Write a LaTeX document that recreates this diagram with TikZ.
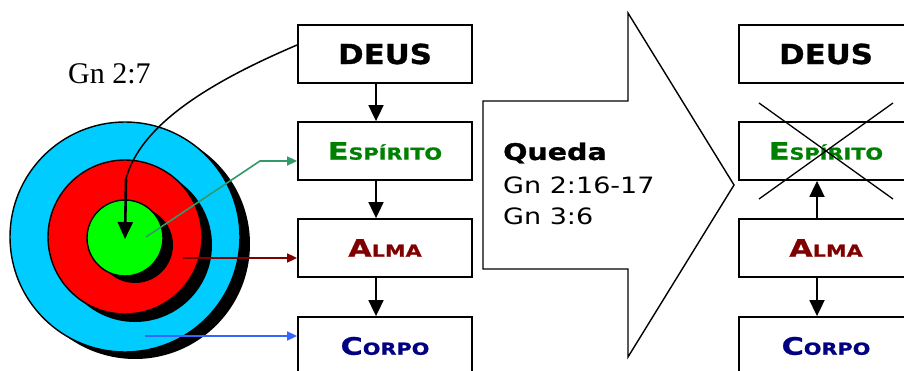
\documentclass[tikz,border=0pt]{standalone}
\usepackage{fontspec}
\usetikzlibrary{arrows.meta}
\newfontfamily\vfD{DejaVu Sans}[FakeStretch=1.12,FakeBold=1.2]
\newfontfamily\vfS{DejaVu Sans}[FakeStretch=1.26,FakeBold=1]
\newfontfamily\vfQ{DejaVu Sans}[FakeStretch=1.24,FakeBold=1]
\newfontfamily\vfR{DejaVu Sans}[FakeStretch=1.2]
\newfontfamily\tf{Liberation Serif}
\definecolor{cyanC}{RGB}{0,204,255}
\definecolor{greenT}{RGB}{0,128,0}
\definecolor{redT}{RGB}{128,0,0}
\definecolor{blueT}{RGB}{0,0,128}
\definecolor{greenA}{RGB}{51,153,102}
\definecolor{blueA}{RGB}{51,102,255}
\newcommand{\fsz}[1]{\fontsize{#1}{#1}\selectfont}
\newcommand{\smc}[2]{{\fsz{24}#1}{\fsz{16.5}#2}}
\tikzset{
  box/.style={draw=black, line width=1.8pt, minimum width=174pt, minimum height=58pt, inner sep=0pt, font=\vfS\bfseries},
  conn/.style={line width=1.8pt, -{Triangle[length=16pt,width=15pt]}},
  carrow/.style={line width=1.6pt, -{Triangle[length=10pt,width=9pt]}},
  ring/.style={draw=black, line width=1.4pt},
}
\begin{document}
\begin{tikzpicture}[x=1pt,y=-1pt]
\useasboundingbox (0,0) rectangle (904,371);
% circles
\fill[black] (135,244) circle (115);
\draw[ring, fill=cyanC] (125,237) circle (115);
\fill[black] (135,245) circle (77);
\draw[ring, fill=red] (125,237) circle (77);
\fill[black] (135,245) circle (38);
\draw[ring, fill=green] (125,238) circle (38);
\node[font=\tf\fsz{30}, anchor=base west, inner sep=0pt] (gn) at (68,84) {Gn 2:7};
% left column
\node[box, font=\vfD\bfseries\fsz{27.5}] (d1) at (385,54) {DEUS};
\node[box, text=greenT] (e1) at (385,151) {\smc{E}{SPÍRITO}};
\node[box, text=redT] (a1) at (385,248) {\smc{A}{LMA}};
\node[box, text=blueT] (c1) at (385,346) {\smc{C}{ORPO}};
\draw[conn] ([xshift=-9pt]d1.south) -- ([xshift=-9pt]e1.north);
\draw[conn] ([xshift=-9pt]e1.south) -- ([xshift=-9pt]a1.north);
\draw[conn] ([xshift=-9pt]a1.south) -- ([xshift=-9pt]c1.north);
% curve
\coordinate (cs) at (126,179);
\coordinate (ct) at (125,239);
\draw[line width=1.5pt] ([yshift=9pt]d1.west) .. controls (210,82) and (140,125) .. (cs);
\draw[line width=2.6pt, -{Triangle[length=17pt,width=15pt]}] (cs) -- (ct);
% colored arrows
\coordinate (gs) at (146,237);
\coordinate (gm) at (260,161);
\draw[carrow, draw=greenA, color=greenA] (gs) -- (gm) -- ([yshift=-10pt]e1.west);
\coordinate (rs) at (183,258);
\draw[carrow, draw=redT, color=redT] (rs) -- ([yshift=-10pt]a1.west);
\coordinate (bs) at (145,336);
\draw[carrow, draw=blueA, color=blueA] (bs) -- ([yshift=10pt]c1.west);
% big arrow
\draw[line width=1.4pt, line join=miter] (483,101) -- (628,101) -- (628,13) -- (734,185) -- (628,357) -- (628,269) -- (483,269) -- cycle;
\node[anchor=base west, inner sep=0pt, font=\vfQ\bfseries\fsz{23}] (q) at (503,160) {Queda};
\node[anchor=base west, inner sep=0pt, font=\vfR\fsz{22.5}] (q2) at (503,194) {Gn 2:16-17};
\node[anchor=base west, inner sep=0pt, font=\vfR\fsz{22.5}] (q3) at (503,225) {Gn 3:6};
% right column
\node[box, font=\vfD\bfseries\fsz{27.5}] (d2) at (826,54) {DEUS};
\node[box, text=greenT] (e2) at (826,151) {\smc{E}{SPÍRITO}};
\node[box, text=redT] (a2) at (826,248) {\smc{A}{LMA}};
\node[box, text=blueT] (c2) at (826,346) {\smc{C}{ORPO}};
\draw[conn] ([xshift=-9pt]a2.north) -- ([xshift=-9pt]e2.south);
\draw[conn] ([xshift=-9pt]a2.south) -- ([xshift=-9pt]c2.north);
\coordinate (x1) at (759,103);
\coordinate (x2) at (893,199);
\coordinate (x3) at (759,199);
\coordinate (x4) at (893,103);
\draw[line width=1.3pt] (x1) -- (x2);
\draw[line width=1.3pt] (x3) -- (x4);
\end{tikzpicture}
\end{document}
